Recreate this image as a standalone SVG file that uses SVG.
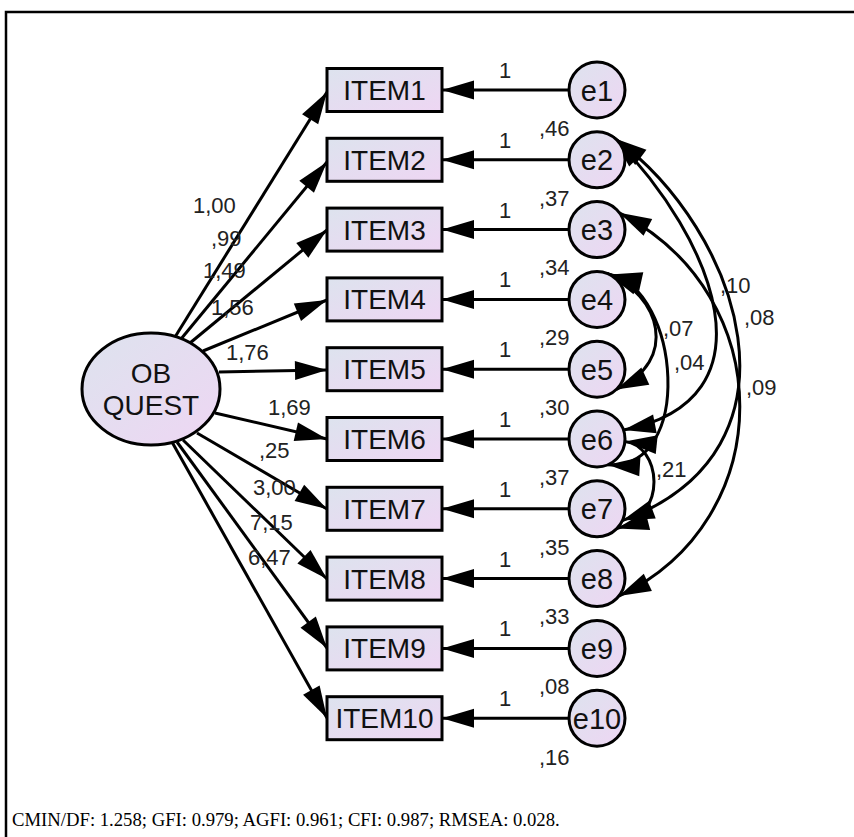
<svg xmlns="http://www.w3.org/2000/svg" width="854" height="837" viewBox="0 0 854 837">
<style>
.ln{stroke:#000;stroke-width:3;fill:none}
.nd{stroke:#000;stroke-width:3}
.nt{font-family:"Liberation Sans",Arial,sans-serif;font-size:28px;fill:#111;text-anchor:middle}
.et{font-family:"Liberation Sans",Arial,sans-serif;font-size:29px;fill:#111;text-anchor:middle}
.lb{font-family:"Liberation Sans",Arial,sans-serif;font-size:22px;fill:#222}
.ft{font-family:"Liberation Serif","Times New Roman",serif;font-size:18.7px;fill:#000}
.fr{stroke:#000;stroke-width:2.5;fill:none}
</style>
<defs>
<linearGradient id="g" x1="0" y1="0" x2="1" y2="1">
<stop offset="0" stop-color="#dde3ee"/>
<stop offset="1" stop-color="#eed6f3"/>
</linearGradient>
<marker id="ah" viewBox="-33 -10 34 20" refX="0" refY="0" markerWidth="34" markerHeight="20" markerUnits="userSpaceOnUse" orient="auto-start-reverse" overflow="visible">
<path d="M0,0 L-32,-9.5 L-32,9.5 Z" fill="#000"/>
</marker>
</defs>
<rect width="854" height="837" fill="#fff"/>
<path class="fr" d="M6,837 V12 H854"/>

<g id="connectors">
<g id="loadings" class="ln" marker-end="url(#ah)">
<path d="M175,337 L327,92"/>
<path d="M181,339 L327,162"/>
<path d="M190,343 L327,230"/>
<path d="M203,351 L327,300"/>
<path d="M219,372 L327,370"/>
<path d="M215,413 L327,439"/>
<path d="M197,433 L327,509"/>
<path d="M183,440 L327,579"/>
<path d="M177,442 L327,648"/>
<path d="M172,442 L327,718"/>
</g>
<g id="errors" class="ln" marker-end="url(#ah)">
<path d="M569,90 H442"/>
<path d="M569,159.8 H442"/>
<path d="M569,229.6 H442"/>
<path d="M569,299.4 H442"/>
<path d="M569,369.2 H442"/>
<path d="M569,439 H442"/>
<path d="M569,508.8 H442"/>
<path d="M569,578.6 H442"/>
<path d="M569,648.4 H442"/>
<path d="M569,718.2 H442"/>
</g>
<g id="covariances" class="ln" marker-start="url(#ah)" marker-end="url(#ah)">
<path d="M613.5,137 C715,240 778,400 623.5,430"/>
<path d="M615,138.5 C740,230 815,450 622.4,520.6"/>
<path d="M619.4,212.8 C780,295 780,520 618.9,596.1"/>
<path d="M607.5,273.4 C660,295 680,360 616.3,389.5"/>
<path d="M610,274.5 C680,290 695,470 607.9,464.8"/>
<path d="M624.9,441.4 C660,445 670,515 616.8,528.6"/>
</g>
</g>

<g id="OBQUEST">
<ellipse cx="151" cy="389" rx="69" ry="56" fill="url(#g)" class="nd"/>
<text class="nt" x="151" y="383">OB</text>
<text class="nt" x="151" y="415">QUEST</text>
</g>

<g id="ITEM1"><rect x="327" y="68.5" width="115" height="43" fill="url(#g)" class="nd"/><text class="nt" x="384.5" y="100">ITEM1</text></g>
<g id="ITEM2"><rect x="327" y="138.3" width="115" height="43" fill="url(#g)" class="nd"/><text class="nt" x="384.5" y="169.8">ITEM2</text></g>
<g id="ITEM3"><rect x="327" y="208.1" width="115" height="43" fill="url(#g)" class="nd"/><text class="nt" x="384.5" y="239.6">ITEM3</text></g>
<g id="ITEM4"><rect x="327" y="277.9" width="115" height="43" fill="url(#g)" class="nd"/><text class="nt" x="384.5" y="309.4">ITEM4</text></g>
<g id="ITEM5"><rect x="327" y="347.7" width="115" height="43" fill="url(#g)" class="nd"/><text class="nt" x="384.5" y="379.2">ITEM5</text></g>
<g id="ITEM6"><rect x="327" y="417.5" width="115" height="43" fill="url(#g)" class="nd"/><text class="nt" x="384.5" y="449">ITEM6</text></g>
<g id="ITEM7"><rect x="327" y="487.3" width="115" height="43" fill="url(#g)" class="nd"/><text class="nt" x="384.5" y="518.8">ITEM7</text></g>
<g id="ITEM8"><rect x="327" y="557.1" width="115" height="43" fill="url(#g)" class="nd"/><text class="nt" x="384.5" y="588.6">ITEM8</text></g>
<g id="ITEM9"><rect x="327" y="626.9" width="115" height="43" fill="url(#g)" class="nd"/><text class="nt" x="384.5" y="658.4">ITEM9</text></g>
<g id="ITEM10"><rect x="327" y="696.7" width="115" height="43" fill="url(#g)" class="nd"/><text class="nt" x="384.5" y="728.2">ITEM10</text></g>

<g id="e1"><circle cx="597" cy="90" r="28" fill="url(#g)" class="nd"/><text class="et" x="597" y="100.5">e1</text></g>
<g id="e2"><circle cx="597" cy="159.8" r="28" fill="url(#g)" class="nd"/><text class="et" x="597" y="170.3">e2</text></g>
<g id="e3"><circle cx="597" cy="229.6" r="28" fill="url(#g)" class="nd"/><text class="et" x="597" y="240.1">e3</text></g>
<g id="e4"><circle cx="597" cy="299.4" r="28" fill="url(#g)" class="nd"/><text class="et" x="597" y="309.9">e4</text></g>
<g id="e5"><circle cx="597" cy="369.2" r="28" fill="url(#g)" class="nd"/><text class="et" x="597" y="379.7">e5</text></g>
<g id="e6"><circle cx="597" cy="439" r="28" fill="url(#g)" class="nd"/><text class="et" x="597" y="449.5">e6</text></g>
<g id="e7"><circle cx="597" cy="508.8" r="28" fill="url(#g)" class="nd"/><text class="et" x="597" y="519.3">e7</text></g>
<g id="e8"><circle cx="597" cy="578.6" r="28" fill="url(#g)" class="nd"/><text class="et" x="597" y="589.1">e8</text></g>
<g id="e9"><circle cx="597" cy="648.4" r="28" fill="url(#g)" class="nd"/><text class="et" x="597" y="658.9">e9</text></g>
<g id="e10"><circle cx="597" cy="718.2" r="28" fill="url(#g)" class="nd"/><text class="et" x="597" y="728.7">e10</text></g>

<g id="labels" class="lb">
<text x="193" y="213">1,00</text>
<text x="211" y="246">,99</text>
<text x="203" y="278">1,49</text>
<text x="211" y="315">1,56</text>
<text x="226" y="360">1,76</text>
<text x="268" y="415">1,69</text>
<text x="259" y="458">,25</text>
<text x="253" y="495">3,00</text>
<text x="250" y="530">7,15</text>
<text x="248" y="565">6,47</text>
<text x="499" y="78">1</text>
<text x="499" y="147.8">1</text>
<text x="499" y="217.6">1</text>
<text x="499" y="287.4">1</text>
<text x="499" y="357.2">1</text>
<text x="499" y="427">1</text>
<text x="499" y="496.8">1</text>
<text x="499" y="566.6">1</text>
<text x="499" y="636.4">1</text>
<text x="499" y="706.2">1</text>
<text x="539" y="135.8">,46</text>
<text x="539" y="205.6">,37</text>
<text x="539" y="275.4">,34</text>
<text x="539" y="345.2">,29</text>
<text x="539" y="415">,30</text>
<text x="539" y="484.8">,37</text>
<text x="539" y="554.6">,35</text>
<text x="539" y="624.4">,33</text>
<text x="539" y="694.2">,08</text>
<text x="539" y="765">,16</text>
<text x="720" y="293">,10</text>
<text x="744" y="325">,08</text>
<text x="663" y="336">,07</text>
<text x="674" y="370">,04</text>
<text x="746" y="395">,09</text>
<text x="656" y="477">,21</text>
</g>
<text class="ft" x="12" y="826">CMIN/DF: 1.258; GFI: 0.979; AGFI: 0.961; CFI: 0.987; RMSEA: 0.028.</text>
</svg>
